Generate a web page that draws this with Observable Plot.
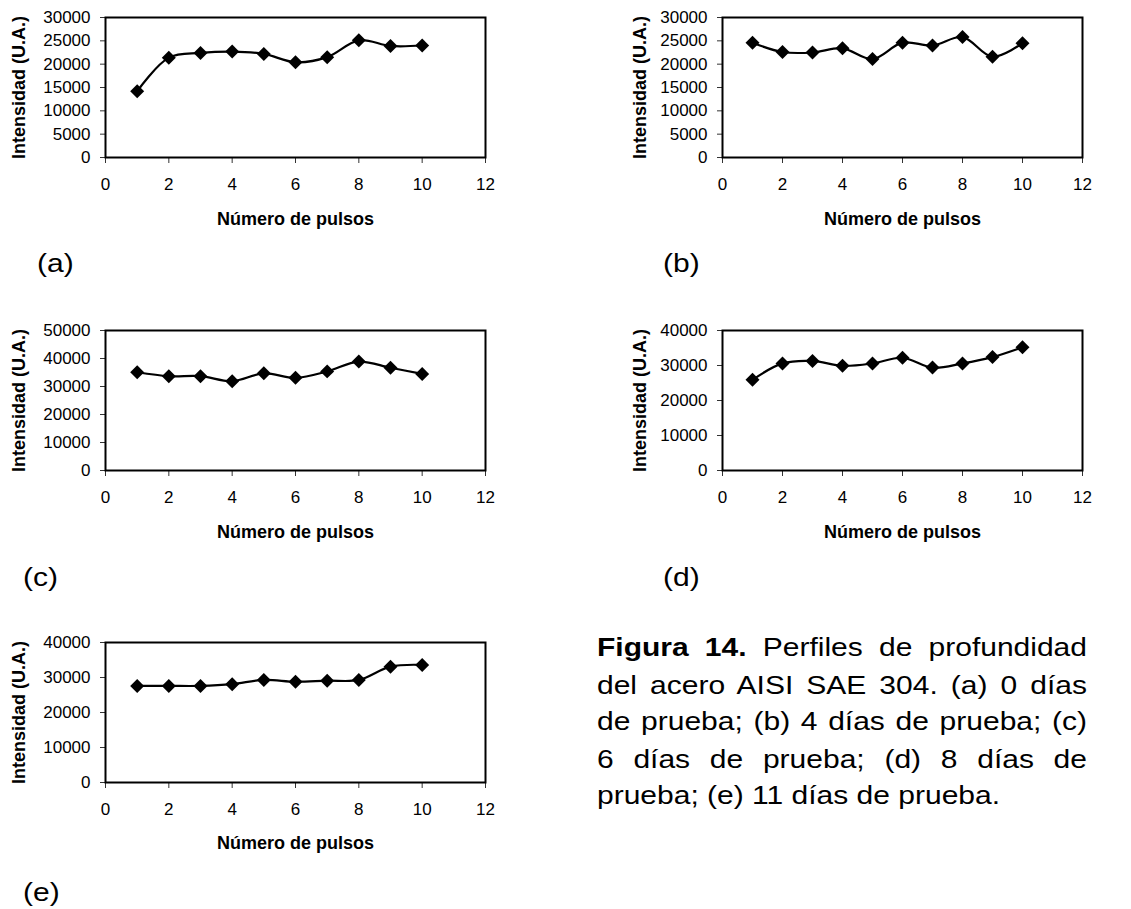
<!DOCTYPE html>
<html>
<head>
<meta charset="utf-8">
<script src="https://cdn.jsdelivr.net/npm/d3@7"></script>
<script src="https://cdn.jsdelivr.net/npm/@observablehq/plot@0.6"></script>
<style>
  html, body { margin: 0; padding: 0; background: #fff; }
  body { font-family: "Liberation Sans", Arial, sans-serif; color: #000; }
  #root { position: relative; width: 1131px; height: 909px; overflow: hidden; background: #fff; }
  .panel { position: absolute; }
  .tag { position: absolute; font-size: 30px; line-height: 1; white-space: nowrap; transform: scaleY(0.85); transform-origin: 0 0; }
  #caption { position: absolute; left: 597px; top: 629px; width: 490px; font-size: 30px; line-height: 43.5px; text-align: justify; transform: scaleY(0.85); transform-origin: 0 0; }
</style>
</head>
<body>
<div id="root"></div>
<script>
// ---- data ----
const pulses = [1, 2, 3, 4, 5, 6, 7, 8, 9, 10];
const intensityA = [14200, 21400, 22400, 22700, 22200, 20400, 21500, 25100, 23900, 24000]; // 0 días
const intensityB = [24600, 22600, 22500, 23400, 21100, 24600, 24000, 25800, 21600, 24500]; // 4 días
const intensityC = [35100, 33700, 33700, 31900, 34700, 33100, 35400, 38900, 36700, 34500]; // 6 días
const intensityD = [25900, 30600, 31300, 29900, 30600, 32200, 29400, 30600, 32400, 35200]; // 8 días
const intensityE = [27600, 27600, 27600, 28100, 29300, 28800, 29100, 29300, 33100, 33600]; // 11 días

const xTicks = [0, 2, 4, 6, 8, 10, 12];
const yTicks30k = [0, 5000, 10000, 15000, 20000, 25000, 30000];
const yTicks50k = [0, 10000, 20000, 30000, 40000, 50000];
const yTicks40k = [0, 10000, 20000, 30000, 40000];

const xLabel = "Número de pulsos";
const yLabel = "Intensidad (U.A.)";
const tags = ["(a)", "(b)", "(c)", "(d)", "(e)"];

const root = document.getElementById("root");
const FONT = "'Liberation Sans', Arial, sans-serif";

function panel(cfg) {
  const data = pulses.map((p, i) => ({pulso: p, intensidad: cfg.values[i]}));
  const chart = Plot.plot({
    width: cfg.width,
    height: cfg.height,
    marginTop: cfg.mt,
    marginBottom: cfg.mb,
    marginLeft: cfg.ml,
    marginRight: cfg.mr,
    style: {fontFamily: FONT, fontSize: "17px", color: "#000", background: "transparent", overflow: "visible"},
    x: {domain: [0, 12]},
    y: {domain: [0, cfg.yTicks[cfg.yTicks.length - 1]]},
    marks: [
      Plot.axisX({ticks: xTicks, tickSize: 6, tickPadding: 14, label: null, tickFormat: d => String(d), stroke: "#333"}),
      Plot.axisY({ticks: cfg.yTicks, tickSize: 5, tickPadding: 10, label: null, tickFormat: d => String(d), stroke: "#333"}),
      Plot.frame({stroke: "#000", strokeWidth: 2}),
      Plot.line(data, {x: "pulso", y: "intensidad", stroke: "#000", strokeWidth: 2.2, curve: "catmull-rom"}),
      Plot.dot(data, {x: "pulso", y: "intensidad", symbol: "diamond2", r: 6.3, fill: "#000", stroke: "none"}),
      Plot.text([xLabel], {text: d => d, frameAnchor: "bottom", textAnchor: "middle", lineAnchor: "bottom", dy: cfg.xlabDy, fontWeight: "bold", fontSize: 18}),
      Plot.text([yLabel], {text: d => d, frameAnchor: "left", textAnchor: "middle", lineAnchor: "middle", rotate: -90, dx: -cfg.ylabDx, fontWeight: "bold", fontSize: 18})
    ]
  });
  const div = document.createElement("div");
  div.className = "panel";
  div.style.left = cfg.left + "px";
  div.style.top = cfg.top + "px";
  div.appendChild(chart);
  root.appendChild(div);
}

const leftCol = {left: 0, width: 520, ml: 105, mr: 35, ylabDx: 86};
const rightCol = {left: 580, width: 551, ml: 142, mr: 49, ylabDx: 82};

panel({...leftCol, top: 0, height: 240, mt: 17, mb: 83, xlabDy: 67, values: intensityA, yTicks: yTicks30k});
panel({...rightCol, top: 0, height: 240, mt: 17, mb: 83, xlabDy: 67, values: intensityB, yTicks: yTicks30k});
panel({...leftCol, top: 310, height: 240, mt: 20, mb: 80, xlabDy: 67, values: intensityC, yTicks: yTicks50k});
panel({...rightCol, top: 310, height: 240, mt: 20, mb: 80, xlabDy: 67, values: intensityD, yTicks: yTicks40k});
panel({...leftCol, top: 620, height: 240, mt: 22, mb: 78, xlabDy: 66, values: intensityE, yTicks: yTicks40k});

const tagPos = [[37, 251], [663, 251], [23, 565], [663, 565], [23, 880]];
tags.forEach((t, i) => {
  const s = document.createElement("div");
  s.className = "tag";
  s.style.left = tagPos[i][0] + "px";
  s.style.top = tagPos[i][1] + "px";
  s.textContent = t;
  root.appendChild(s);
});

const cap = document.createElement("div");
cap.id = "caption";
const b = document.createElement("b");
b.textContent = "Figura 14.";
cap.appendChild(b);
cap.appendChild(document.createTextNode(" Perfiles de profundidad del acero AISI SAE 304. (a) 0 días de prueba; (b) 4 días de prueba; (c) 6 días de prueba; (d) 8 días de prueba; (e) 11 días de prueba."));
root.appendChild(cap);
</script>
</body>
</html>
